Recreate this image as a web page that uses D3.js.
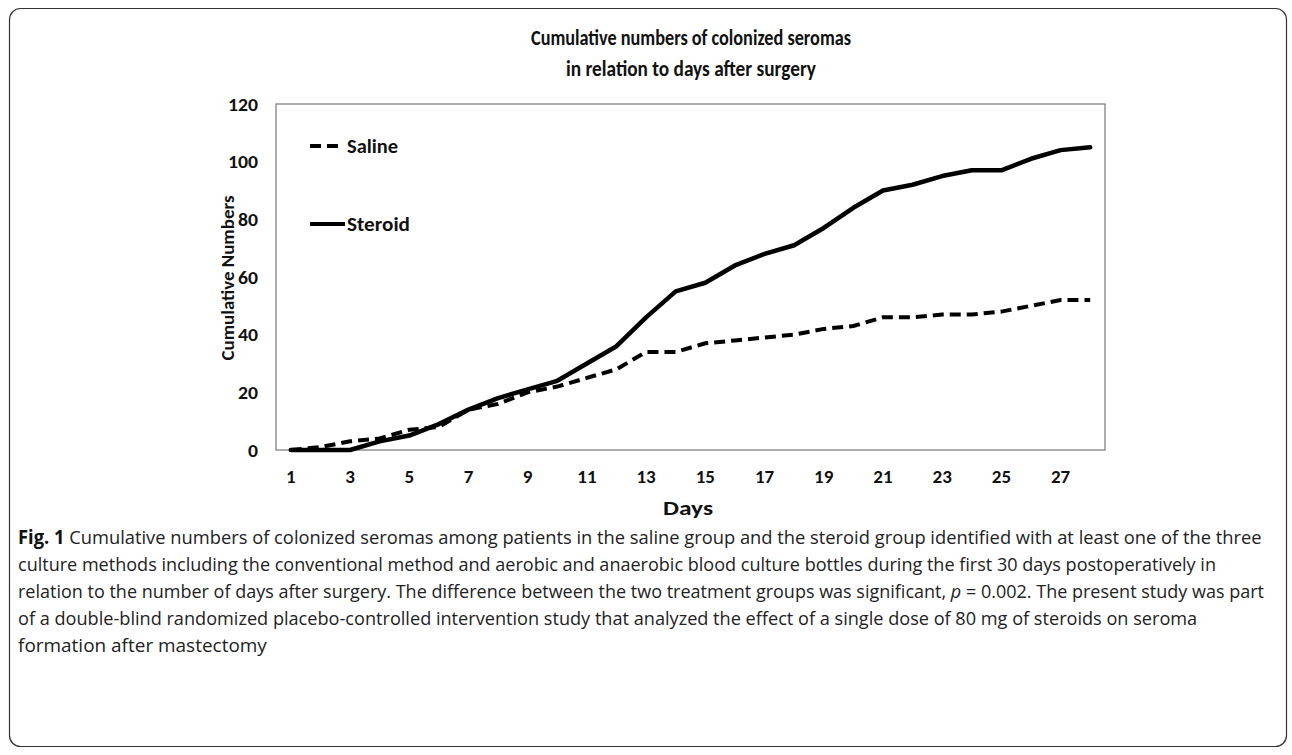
<!DOCTYPE html>
<html>
<head>
<meta charset="utf-8">
<script src="https://cdn.jsdelivr.net/npm/d3@7"></script>
<style>
  body { margin: 0; background: #fff; }
  svg { display: block; }
  .bold-label { font-family: Carlito, "Open Sans", sans-serif; font-weight: bold; fill: #111; }
  .caption { font-family: "Liberation Sans Narrow", "Open Sans", sans-serif; font-size: 19px; fill: #222; }
</style>
</head>
<body>
<svg id="chart" width="1292" height="755"></svg>
<script>
// values
var days = d3.range(1, 29);
var dayLabels = ['1', '3', '5', '7', '9', '11', '13', '15', '17', '19', '21', '23', '25', '27'];
var saline = [0, 1, 3, 4, 7, 8, 14, 16, 20, 22, 25, 28, 34, 34, 37, 38, 39, 40, 42, 43, 46, 46, 47, 47, 48, 50, 52, 52];
var steroid = [0, 0, 0, 3, 5, 9, 14, 18, 21, 24, 30, 36, 46, 55, 58, 64, 68, 71, 77, 84, 90, 92, 95, 97, 97, 101, 104, 105];
var yTicks = [0, 20, 40, 60, 80, 100, 120];
var titleLines = ['Cumulative numbers of colonized seromas', 'in relation to days after surgery'];
var captionLines = [
    'Cumulative numbers of colonized seromas among patients in the saline group and the steroid group identified with at least one of the three',
    'culture methods including the conventional method and aerobic and anaerobic blood culture bottles during the first 30 days postoperatively in',
    'relation to the number of days after surgery. The difference between the two treatment groups was significant, ',
    'of a double-blind randomized placebo-controlled intervention study that analyzed the effect of a single dose of 80 mg of steroids on seroma',
    'formation after mastectomy'
];

var svg = d3.select('#chart');

// outer rounded frame
svg.append('rect')
    .attr('x', 9.5).attr('y', 8.5)
    .attr('width', 1277).attr('height', 738)
    .attr('rx', 11)
    .attr('fill', 'none').attr('stroke', '#333').attr('stroke-width', 1.2);

var plot = { left: 276, top: 104, right: 1105, bottom: 450 };

var x = d3.scaleBand().domain(days).range([plot.left, plot.right]);
var y = d3.scaleLinear().domain([0, 120]).range([plot.bottom, plot.top]);

// plot frame
svg.append('rect')
    .attr('x', plot.left).attr('y', plot.top)
    .attr('width', plot.right - plot.left).attr('height', plot.bottom - plot.top)
    .attr('fill', 'none').attr('stroke', '#777').attr('stroke-width', 1.2);

function styleTicks(axisGroup) {
    axisGroup.select('.domain').remove();
    axisGroup.selectAll('text')
        .attr('class', 'bold-label')
        .attr('font-family', null)
        .style('font-size', '19px');
}

// y axis
var yAxis = svg.append('g')
    .attr('transform', 'translate(' + plot.left + ',0)')
    .call(d3.axisLeft(y).tickValues(yTicks).tickSize(0).tickPadding(18));
styleTicks(yAxis);
yAxis.selectAll('text').attr('textLength', function(d) { return String(d).length * 10; })
    .attr('lengthAdjust', 'spacingAndGlyphs');

// x axis
var xAxis = svg.append('g')
    .attr('transform', 'translate(0,' + plot.bottom + ')')
    .call(d3.axisBottom(x).tickValues(dayLabels.map(Number)).tickSize(0).tickPadding(20));
styleTicks(xAxis);

// axis titles
svg.append('text')
    .attr('class', 'bold-label')
    .attr('x', 688).attr('y', 515)
    .attr('text-anchor', 'middle')
    .style('font-size', '21px')
    .attr('textLength', 50).attr('lengthAdjust', 'spacingAndGlyphs')
    .text('Days');

svg.append('text')
    .attr('class', 'bold-label')
    .attr('transform', 'translate(234,278) rotate(-90)')
    .attr('text-anchor', 'middle')
    .style('font-size', '19px')
    .attr('textLength', 165).attr('lengthAdjust', 'spacingAndGlyphs')
    .text('Cumulative Numbers');

// title
var titleY = [45, 76];
var titleWidths = [320, 250];
titleLines.forEach(function(txt, i) {
    svg.append('text')
        .attr('class', 'bold-label')
        .attr('x', 691).attr('y', titleY[i])
        .attr('text-anchor', 'middle')
        .style('font-size', '22px')
        .attr('textLength', titleWidths[i]).attr('lengthAdjust', 'spacingAndGlyphs')
        .text(txt);
});

// series
var line = d3.line()
    .x(function(d, i) { return x(days[i]) + x.bandwidth() / 2; })
    .y(function(d) { return y(d); });

svg.append('path')
    .datum(saline)
    .attr('d', line)
    .attr('fill', 'none').attr('stroke', '#000')
    .attr('stroke-width', 4)
    .attr('stroke-dasharray', '11,6');

svg.append('path')
    .datum(steroid)
    .attr('d', line)
    .attr('fill', 'none').attr('stroke', '#000')
    .attr('stroke-width', 4.5)
    .attr('stroke-linejoin', 'round').attr('stroke-linecap', 'round');

// legend
var legend = [
    { name: 'Saline', y: 146, dash: '11,6', x2: 339, w: 51 },
    { name: 'Steroid', y: 224, dash: null, x2: 345, w: 63 }
];
legend.forEach(function(item) {
    svg.append('line')
        .attr('x1', 310).attr('x2', item.x2)
        .attr('y1', item.y).attr('y2', item.y)
        .attr('stroke', '#000').attr('stroke-width', 4)
        .attr('stroke-dasharray', item.dash);
    svg.append('text')
        .attr('class', 'bold-label')
        .attr('x', 347).attr('y', item.y + 7)
        .style('font-size', '20px')
        .attr('textLength', item.w).attr('lengthAdjust', 'spacingAndGlyphs')
        .text(item.name);
});

// caption: each line squeezed horizontally to the width it has in the figure
var captionY = [544, 571, 598, 625, 652];
var captionEnds = [1262, 1217, 1265, 1198, 267];
var captionLeft = 18;
captionLines.forEach(function(textLine, i) {
    var g = svg.append('g');
    var t = g.append('text')
        .attr('class', 'caption')
        .attr('x', 0).attr('y', 0);
    if (i === 0) {
        t.append('tspan').attr('font-weight', 'bold').attr('fill', '#111').text('Fig. 1 ');
    }
    t.append('tspan').text(textLine);
    if (i === 2) {
        t.append('tspan').attr('font-style', 'italic').text('p');
        t.append('tspan').text(' = 0.002. The present study was part');
    }
    var natural = t.node().getComputedTextLength();
    var sx = (captionEnds[i] - captionLeft) / natural;
    g.attr('transform', 'translate(' + captionLeft + ',' + captionY[i] + ') scale(' + sx + ',1)');
});
</script>
</body>
</html>
